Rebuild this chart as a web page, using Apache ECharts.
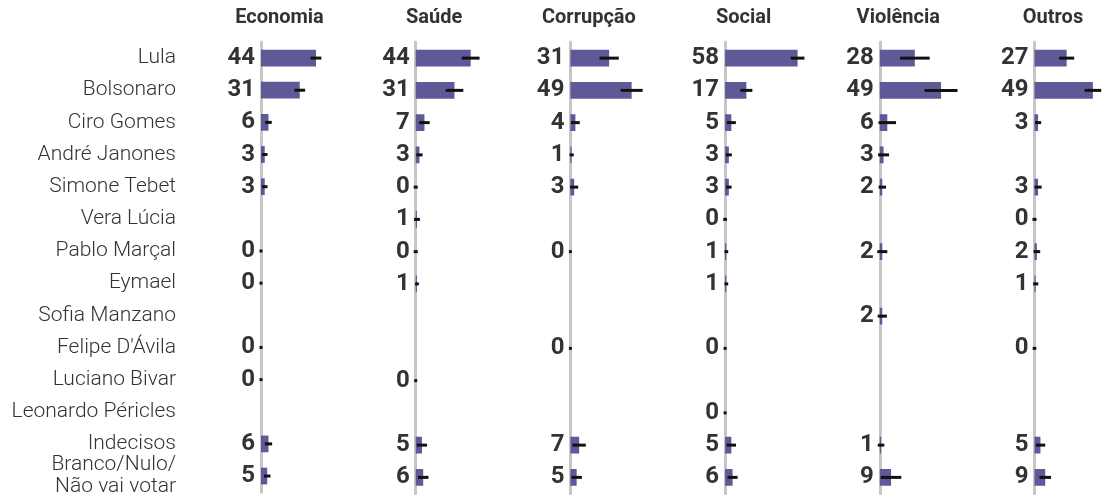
<!DOCTYPE html>
<html>
<head>
<meta charset="utf-8">
<script src="https://cdn.jsdelivr.net/npm/echarts@6/dist/echarts.min.js"></script>
<style>
html,body{margin:0;padding:0;background:#fff;}
#chart{width:1106px;height:498px;}
</style>
</head>
<body>
<div id="chart"></div>
<script>
// ---- data ----
var categories = ["Lula", "Bolsonaro", "Ciro Gomes", "André Janones", "Simone Tebet", "Vera Lúcia", "Pablo Marçal", "Eymael", "Sofia Manzano", "Felipe D'Ávila", "Luciano Bivar", "Leonardo Péricles", "Indecisos", "Branco/Nulo/\nNão vai votar"];
var panels = ["Economia", "Saúde", "Corrupção", "Social", "Violência", "Outros"];

var economia  = [44, 31, 6, 3, 3, null, 0, 0, null, 0, 0, null, 6, 5];
var saude     = [44, 31, 7, 3, 0, 1, 0, 1, null, null, 0, null, 5, 6];
var corrupcao = [31, 49, 4, 1, 3, null, 0, null, null, 0, null, null, 7, 5];
var social    = [58, 17, 5, 3, 3, 0, 1, 1, null, 0, null, 0, 5, 6];
var violencia = [28, 49, 6, 3, 2, null, 2, null, 2, null, null, null, 1, 9];
var outros    = [27, 49, 3, null, 3, 0, 2, 1, null, 0, null, null, 5, 9];

// margin of error (half-width of the error bar)
var moeEconomia  = [4.3, 4.3, 2.6, 2.2, 2.2, null, 1.2, 1.2, null, 1.2, 1.2, null, 2.9, 2.6];
var moeSaude     = [7.1, 7.1, 4.2, 2.5, 1.6, 2.4, 1.6, 1.5, null, null, 1.2, null, 4.1, 4.2];
var moeCorrupcao = [7.7, 8.8, 3.5, 1.7, 3.2, null, 1.2, null, null, 1.2, null, null, 5.3, 4.2];
var moeSocial    = [5.5, 4.8, 3.6, 2.4, 2.2, 1.5, 1.5, 1.5, null, 1.2, null, 1.2, 3.7, 4.0];
var moeViolencia = [11.9, 13.2, 7.0, 4.4, 3.0, null, 4.0, null, 3.7, null, null, null, 2.6, 8.2];
var moeOutros    = [6.3, 7.0, 2.6, null, 3.0, 1.7, 2.8, 2.2, null, 1.5, null, null, 4.0, 4.9];

var values = [economia, saude, corrupcao, social, violencia, outros];
var moes = [moeEconomia, moeSaude, moeCorrupcao, moeSocial, moeViolencia, moeOutros];

// ---- layout / style ----
var FONT = 'Roboto';
var TEXT = '#333333';
var BAR = '#5e5a97';
var firstLeft = 261, step = 154.7, gridTop = 42, gridH = 451.5, gridW = 75, xMax = 60;

var chart = echarts.init(document.getElementById('chart'), null, {renderer: 'canvas'});

var grids = [], xAxes = [], yAxes = [], series = [], titles = [];
panels.forEach(function (name, p) {
  var left = firstLeft + p * step;
  grids.push({left: left, top: gridTop, width: gridW, height: gridH, containLabel: false});
  titles.push({
    text: name, left: left + 18.5, top: 8, textAlign: 'center', padding: 0,
    textStyle: {fontFamily: FONT, fontWeight: 'bold', fontSize: 20, color: TEXT}
  });
  xAxes.push({type: 'value', gridIndex: p, min: 0, max: xMax, show: false});
  yAxes.push({
    type: 'category', gridIndex: p, data: categories, inverse: true,
    axisLine: {show: true, lineStyle: {color: '#c6c6c6', width: 3}},
    axisTick: {show: false},
    splitLine: {show: false},
    axisLabel: p === 0 ? {
      show: true, interval: 0, margin: 85, fontFamily: FONT, fontWeight: 300, fontSize: 21,
      color: TEXT, lineHeight: 22, align: 'right'
    } : {show: false}
  });
  series.push({
    type: 'bar', xAxisIndex: p, yAxisIndex: p,
    data: values[p], barWidth: '52%',
    itemStyle: {color: BAR},
    label: {
      show: true, position: 'left', distance: 6,
      fontFamily: FONT, fontWeight: 'bold', fontSize: 24, color: TEXT,
      formatter: function (d) { return d.value; }
    },
    silent: true, animation: false
  });
  var errData = [];
  values[p].forEach(function (v, i) {
    if (v !== null && moes[p][i] !== null) errData.push([v - moes[p][i], v + moes[p][i], i]);
  });
  series.push({
    type: 'custom', xAxisIndex: p, yAxisIndex: p, data: errData, z: 5,
    encode: {x: [0, 1], y: 2},
    renderItem: function (params, api) {
      var a = api.coord([api.value(0), api.value(2)]);
      var b = api.coord([api.value(1), api.value(2)]);
      return {type: 'line', shape: {x1: a[0], y1: a[1], x2: b[0], y2: b[1]},
        style: {stroke: '#111111', lineWidth: 3}};
    },
    silent: true, animation: false
  });
});

chart.setOption({
  backgroundColor: '#ffffff',
  animation: false,
  title: titles,
  grid: grids,
  xAxis: xAxes,
  yAxis: yAxes,
  series: series
});
</script>
</body>
</html>
